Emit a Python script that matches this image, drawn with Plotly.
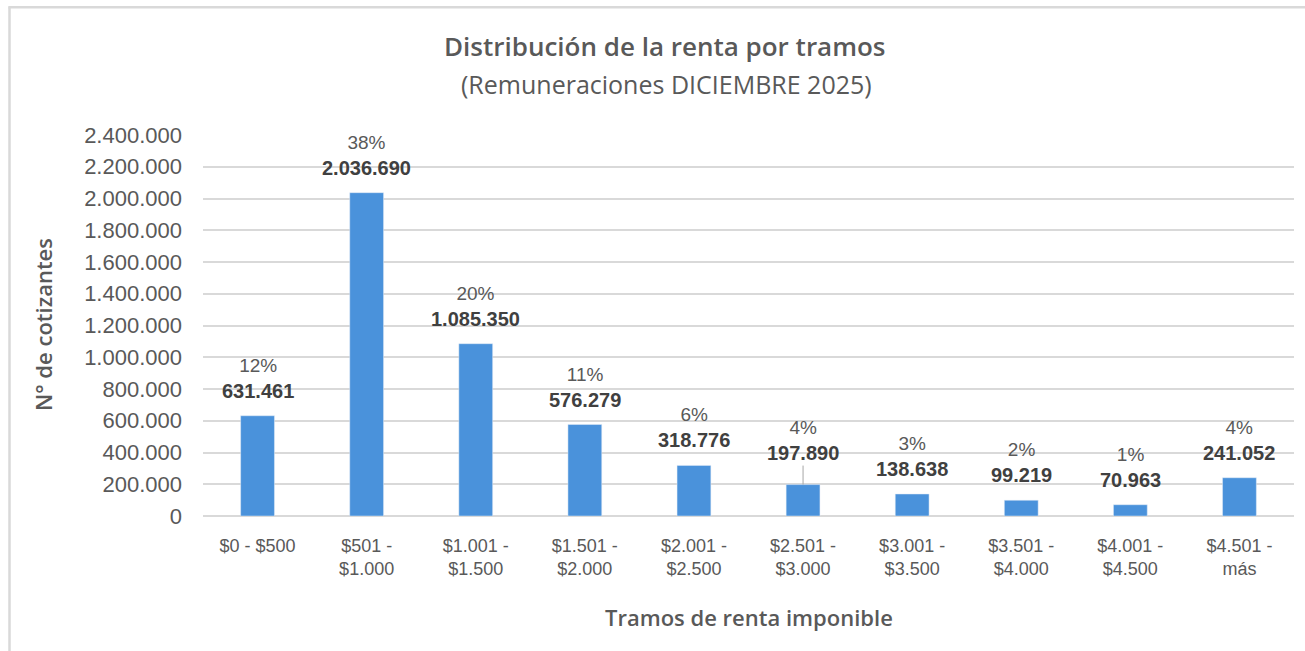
import plotly.graph_objects as go

categorias = ["$0 - $500", "$501 -<br>$1.000", "$1.001 -<br>$1.500", "$1.501 -<br>$2.000",
              "$2.001 -<br>$2.500", "$2.501 -<br>$3.000", "$3.001 -<br>$3.500",
              "$3.501 -<br>$4.000", "$4.001 -<br>$4.500", "$4.501 -<br>más"]
cotizantes = [631461, 2036690, 1085350, 576279, 318776, 197890, 138638, 99219, 70963, 241052]
porcentajes = ["12%", "38%", "20%", "11%", "6%", "4%", "3%", "2%", "1%", "4%"]

BAR = "#4a92db"
GRID = "#d9d9d9"
TXT = "#595959"

W, H = 1305, 651
L, R, T, B = 203, 11, 135, 135
PW, PH = W - L - R, H - T - B


def px(x):
    return (x - L) / PW


def py(y):
    return (H - B - y) / PH


def fmt(v):
    return f"{v:,}".replace(",", ".")


fig = go.Figure(go.Bar(x=categorias, y=cotizantes, marker_color=BAR, width=0.31,
                       hoverinfo="skip"))

LBL_FONT = dict(family="Liberation Sans, Arial", size=20, color="#404040")
annotations = []
for i, (c, v, p) in enumerate(zip(categorias, cotizantes, porcentajes)):
    text = f"<span style='color:{TXT};font-size:19px'>{p}</span><br><b>{fmt(v)}</b>"
    if i == 5:
        annotations.append(dict(x=c, y=v, xref="x", yref="y", text=text, showarrow=True,
                                arrowhead=0, arrowwidth=1, arrowcolor="#a6a6a6", ax=0, ay=-44,
                                font=LBL_FONT))
    else:
        annotations.append(dict(x=c, y=v, xref="x", yref="y", text=text, showarrow=False,
                                yanchor="bottom", yshift=12, font=LBL_FONT))

annotations += [
    dict(x=px(665), y=py(46), xref="paper", yref="paper", showarrow=False,
         text="Distribución de la renta por tramos", xanchor="center", yanchor="middle",
         font=dict(family="Open Sans", size=26, color=TXT, weight=600)),
    dict(x=px(666), y=py(84), xref="paper", yref="paper", showarrow=False,
         text="(Remuneraciones DICIEMBRE 2025)", xanchor="center", yanchor="middle",
         font=dict(family="Open Sans", size=25, color=TXT)),
    dict(x=px(748.5), y=py(617), xref="paper", yref="paper", showarrow=False,
         text="Tramos de renta imponible", xanchor="center", yanchor="middle",
         font=dict(family="Open Sans", size=22, color=TXT, weight=600)),
    dict(x=px(43), y=py(325), xref="paper", yref="paper", showarrow=False,
         text="N° de cotizantes", xanchor="center", yanchor="middle", textangle=-90,
         font=dict(family="Open Sans", size=22, color=TXT, weight=600)),
]

shapes = [
    dict(type="line", xref="paper", yref="paper", x0=px(9.5), x1=px(9.5), y0=py(H + 5), y1=py(7.3),
         line=dict(color=GRID, width=2.5)),
    dict(type="line", xref="paper", yref="paper", x0=px(8.3), x1=px(W + 5), y0=py(7.3), y1=py(7.3),
         line=dict(color=GRID, width=2.5)),
]

fig.update_layout(
    width=W, height=H,
    margin=dict(l=L, r=R, t=T, b=B, autoexpand=False),
    paper_bgcolor="white", plot_bgcolor="white",
    separators=",.",
    showlegend=False,
    annotations=annotations,
    shapes=shapes,
)
fig.update_xaxes(showgrid=False, showline=False, ticks="", ticklabelstandoff=17,
                 tickfont=dict(family="Liberation Sans, Arial", size=18, color=TXT),
                 fixedrange=True)
fig.update_yaxes(range=[0, 2400000], dtick=200000, tickformat=",d", showgrid=True,
                 gridcolor=GRID, gridwidth=1.5, zeroline=True, zerolinecolor=GRID, zerolinewidth=2,
                 showline=False, ticks="", ticklabelstandoff=20,
                 tickfont=dict(family="Liberation Sans, Arial", size=22, color=TXT),
                 fixedrange=True)

fig.write_html("out.html", config={"displayModeBar": False},
               post_script="document.body.style.margin='0';document.body.style.overflow='hidden';")
